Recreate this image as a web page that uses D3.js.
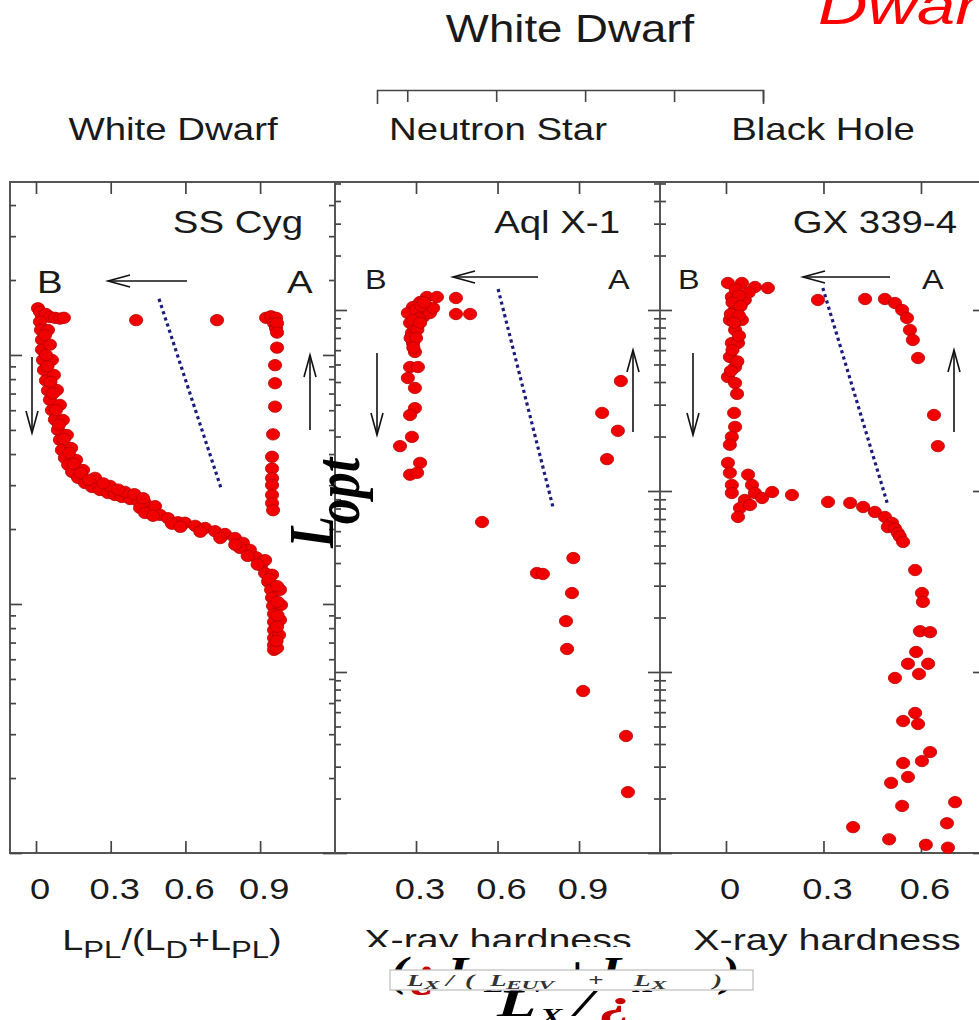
<!DOCTYPE html>
<html><head><meta charset="utf-8">
<script src="https://cdn.jsdelivr.net/npm/d3@7"></script>
<style>body{margin:0;background:#fff}svg{display:block}</style>
</head><body>
<svg id="c" width="979" height="1020"></svg>
<script>
// ---------------- DATA ----------------
const panelNames = ["SS Cyg", "Aql X-1", "GX 339-4"];
const columnTitles = ["White Dwarf", "Neutron Star", "Black Hole"];
const xTicks1 = [0, 0.3, 0.6, 0.9];
const xTickLabels1 = ["0", "0.3", "0.6", "0.9"];
const xTicks2 = [0.3, 0.6, 0.9];
const xTickLabels2 = ["0.3", "0.6", "0.9"];
const xTicks3 = [0, 0.3, 0.6];
const xTickLabels3 = ["0", "0.3", "0.6"];

// [hardness, L_opt]
const ssCygPoints = [
  [0.008,154],[0.016,149],[0.024,143],[0.040,146],[0.056,142],[0.076,141],[0.096,140],[0.112,141],
  [0.402,138],[0.727,138],
  [0.924,141],[0.944,143],[0.964,141],[0.956,134],[0.964,128],
  [0.968,134],[0.968,123],[0.968,107],[0.960,91],[0.960,77],[0.960,62],[0.952,48],[0.948,39],[0.948,35],
  [0.948,32],[0.948,30],[0.948,27.4],[0.948,25.4],[0.952,23.8],
  [0.016,136],[0.020,126],[0.024,115],[0.024,105],[0.028,95.5],[0.032,87],[0.040,79],[0.048,72],[0.056,66],
  [0.064,60],[0.076,55],[0.088,50],[0.096,45.6],[0.104,41.5],[0.116,38.6],[0.129,36.2],[0.145,33.9],
  [0.169,32.1],[0.197,30.6],[0.225,29.5],[0.257,28.7],[0.289,27.9],[0.317,27.4],[0.345,26.9],[0.378,26.4],
  [0.410,25.9],[0.438,25.4],[0.450,24.3],[0.458,23.4],[0.478,24.7],[0.498,22.8],[0.530,22.1],[0.570,21.3],
  [0.598,21.2],[0.639,20.6],[0.679,20.2],[0.719,19.6],[0.759,19.1],[0.799,18.4],[0.831,17.6],[0.859,16.5],
  [0.884,15.4],[0.904,14.3],[0.920,13.3],[0.932,12.3],[0.944,11.4],[0.948,10.6],[0.952,9.82],[0.956,9.12],
  [0.956,8.47],[0.956,7.86],[0.956,7.30],[0.956,6.84],[0.956,6.54],
  [0.048,126],[0.056,110],[0.064,95.5],[0.072,83.1],[0.084,72.3],[0.096,63],[0.108,54.8],[0.124,47.7],
  [0.141,42.3],[0.161,37.9],[0.189,34.5],[0.237,32.1],[0.297,29.8],[0.357,28.2],[0.418,24.3],[0.438,23.2],
  [0.546,21.0],[0.819,16.8],[0.920,15.0],[0.948,13.1],[0.980,11.4],[0.984,9.91],[0.980,8.63],[0.976,7.51],[0.968,6.66],
  [0.036,120],[0.040,100],[0.046,90],[0.058,78],[0.068,70],[0.080,60],[0.092,52.5],[0.112,46],[0.132,40.5],
  [0.152,36.5],[0.180,33.5],[0.212,31.5],[0.270,30.5],[0.330,28.8],[0.395,27.6],[0.430,26.6],[0.470,22.6],
  [0.580,20.4],[0.660,19.5],[0.740,18.4],[0.800,17.3],[0.850,15.6],[0.890,14.4],[0.935,12.6],[0.968,11.8],
  [0.970,10.2],[0.970,9.0],[0.968,8.1],[0.966,7.1]
];
const aqlPoints = [
  [0.340,1180],[0.377,1180],[0.315,1107],[0.289,1039],[0.270,962],[0.278,848],[0.285,746],[0.289,657],
  [0.296,586],[0.326,915],[0.351,962],[0.363,1026],[0.300,1000],[0.320,1050],[0.310,900],[0.295,800],
  [0.330,1100],[0.280,700],[0.305,780],[0.290,880],[0.315,850],[0.300,700],[0.290,620],
  [0.447,1165],[0.447,950],[0.499,950],
  [0.278,484],[0.307,484],[0.270,421],[0.296,371],[0.296,287],[0.278,263],[0.285,199],[0.241,177],
  [0.315,143],[0.278,123],[0.304,126],
  [1.054,405],[0.985,270],[1.043,215],[1.003,150],
  [0.543,67.4],
  [0.879,42.6],[0.745,35.2],[0.767,34.8],[0.874,27.3],[0.852,19.1],[0.856,13.4],[0.915,7.85],[1.073,4.43],[1.080,2.17]
];
const gxPoints = [
  [0.006,1410],[0.049,1410],[0.089,1340],[0.129,1323],[0.018,1180],[0.058,1136],[0.028,1000],[0.012,881],
  [0.049,881],[0.028,776],[0.018,657],[0.037,657],[0.012,550],[0.028,484],[0.006,426],[0.028,395],[0.034,344],
  [0.030,1300],[0.070,1250],[0.040,1200],[0.020,1100],[0.045,1050],[0.015,950],[0.040,930],[0.025,850],
  [0.040,720],[0.020,600],[0.035,520],[0.015,460],
  [0.025,270],[0.028,226],[0.018,199],[0.012,180],
  [0.006,143],[0.012,126],[0.018,108],[0.018,97.5],[0.068,123],[0.080,108],[0.089,97.5],[0.111,91.5],
  [0.142,98.7],[0.058,89.2],[0.043,80.5],[0.037,71.9],[0.074,83.7],
  [0.203,95.0],[0.314,87.0],[0.382,85.9],[0.422,81.6],[0.458,76.6],[0.489,71.9],[0.511,66.6],
  [0.498,63.2],[0.520,62],[0.529,58.6],[0.535,56],[0.545,52.3],[0.582,36.6],[0.603,27.3],[0.606,24.4],
  [0.597,16.8],[0.628,16.6],[0.585,12.9],[0.560,11.1],[0.622,11.1],[0.594,9.75],[0.520,9.27],[0.582,5.94],
  [0.545,5.36],[0.591,5.16],[0.628,3.61],[0.603,3.22],[0.545,3.14],[0.560,2.63],[0.508,2.44],[0.705,1.91],
  [0.542,1.82],[0.680,1.46],[0.391,1.39],[0.502,1.19],[0.615,1.11],[0.683,1.07],
  [0.283,1136],[0.428,1150],[0.489,1150],[0.520,1093],[0.542,1000],[0.557,903],[0.566,776],[0.575,683],
  [0.591,543],[0.640,263],[0.652,177]
];
// dotted reference lines [hardness, L_opt]
const ssCygLine = [[0.494,168],[0.743,29.2]];
const aqlLine = [[0.602,1306],[0.804,81.6]];
const gxLine = [[0.298,1323],[0.498,83.7]];

// ---------------- LAYOUT ----------------
const SANS = "'Liberation Sans', Arial, Helvetica, sans-serif";
const SERIF = "'Liberation Serif', 'Times New Roman', serif";
const TXT = "#1a1a1a";
const RED = "#c80000";
const yRange = [853, 182];
const svg = d3.select("#c");

function addText(parent, o) {
  const g = parent.append("g").attr("transform", `translate(${o.x},${o.y}) ${o.rot ? "rotate(" + o.rot + ")" : ""} scale(${o.kx || 1},${o.ky || 1})`);
  const t = g.append("text")
    .attr("text-anchor", o.anchor || "start")
    .attr("font-family", o.family || SANS)
    .attr("font-size", o.size)
    .attr("font-weight", o.weight || "normal")
    .attr("font-style", o.style || "normal")
    .attr("fill", o.fill || TXT);
  const parts = typeof o.parts === "string" ? [{ t: o.parts }] : o.parts;
  let cur = 0;
  parts.forEach(p => {
    const off = p.dy || 0;
    const ts = t.append("tspan").text(p.t).attr("dy", off - cur);
    cur = off;
    if (p.size) ts.attr("font-size", p.size);
    if (p.fill) ts.attr("fill", p.fill);
    if (p.dx) ts.attr("dx", p.dx);
  });
  return g;
}

function logTicks(top) {
  const maj = [], min = [];
  for (let e = 0; Math.pow(10, e) <= top; e++) {
    const d = Math.pow(10, e);
    maj.push(d);
    for (let k = 2; k < 10; k++) if (k * d < top * 0.995) min.push(k * d);
  }
  return { maj, min };
}

const panels = [
  { x0: 10, x1: 335, xd: [-0.1044, 1.2008], yd: [1, 495], ticks: xTicks1, labels: xTickLabels1, pts: ssCygPoints, line: ssCygLine,
    ann: { B: 27, A: 277, abY: 293, abSize: 32, hFrom: 177, hTo: 98, hY: 281, down: 22, up: 300, dTop: 357, dBot: 433, uTop: 355, uBot: 430 } },
  { x0: 335, x1: 660, xd: [0.0018, 1.198], yd: [1, 5095], ticks: xTicks2, labels: xTickLabels2, pts: aqlPoints, line: aqlLine,
    ann: { B: 30, A: 273, abY: 289, abSize: 27, hFrom: 203, hTo: 118, hY: 277, down: 42, up: 298, dTop: 353, dBot: 435, uTop: 350, uBot: 432 } },
  { x0: 660, x1: 985, xd: [-0.203, 0.797], yd: [1, 5095], ticks: xTicks3, labels: xTickLabels3, pts: gxPoints, line: gxLine,
    ann: { B: 18, A: 262, abY: 289, abSize: 27, hFrom: 230, hTo: 143, hY: 277, down: 33, up: 294, dTop: 353, dBot: 435, uTop: 350, uBot: 432 } }
];

function arrow(g, x1, y1, x2, y2) {
  g.append("line").attr("x1", x1).attr("y1", y1).attr("x2", x2).attr("y2", y2)
    .attr("stroke", "#111").attr("stroke-width", 1.6);
  const a = Math.atan2(y2 - y1, x2 - x1), L = 22, w = 6;
  const bx = x2 - L * Math.cos(a), by = y2 - L * Math.sin(a);
  const nx = -Math.sin(a) * w, ny = Math.cos(a) * w;
  g.append("path").attr("d", `M${bx + nx},${by + ny}L${x2},${y2}L${bx - nx},${by - ny}`)
    .attr("fill", "none").attr("stroke", "#111").attr("stroke-width", 1.6);
}

panels.forEach((p, i) => {
  const x = d3.scaleLinear().domain(p.xd).range([p.x0, p.x1]);
  const y = d3.scaleLog().domain(p.yd).range(yRange);
  const g = svg.append("g");

  g.append("rect").attr("x", p.x0).attr("y", yRange[1]).attr("width", p.x1 - p.x0).attr("height", yRange[0] - yRange[1])
    .attr("fill", "none").attr("stroke", "#555").attr("stroke-width", 2);

  const lt = logTicks(p.yd[1]);
  const styleAxis = s => { s.select(".domain").remove(); s.selectAll("line").attr("stroke", "#444").attr("stroke-width", 1.7); };
  g.append("g").attr("transform", `translate(${p.x0},0)`).call(d3.axisRight(y).tickValues(lt.maj).tickSize(12).tickFormat("")).call(styleAxis);
  g.append("g").attr("transform", `translate(${p.x0},0)`).call(d3.axisRight(y).tickValues(lt.min).tickSize(6).tickFormat("")).call(styleAxis);
  g.append("g").attr("transform", `translate(${p.x1},0)`).call(d3.axisLeft(y).tickValues(lt.maj).tickSize(12).tickFormat("")).call(styleAxis);
  g.append("g").attr("transform", `translate(${p.x1},0)`).call(d3.axisLeft(y).tickValues(lt.min).tickSize(6).tickFormat("")).call(styleAxis);
  g.append("g").attr("transform", `translate(0,${yRange[0]})`).call(d3.axisTop(x).tickValues(p.ticks).tickSize(12).tickFormat("")).call(styleAxis);
  g.append("g").attr("transform", `translate(0,${yRange[1]})`).call(d3.axisBottom(x).tickValues(p.ticks).tickSize(12).tickFormat("")).call(styleAxis);

  p.ticks.forEach((v, j) => addText(svg, { x: x(v) + 4, y: 899, anchor: "middle", kx: 1.25, size: 29, parts: p.labels[j] }));

  g.append("path").datum(p.line)
    .attr("d", d3.line().x(d => x(d[0])).y(d => y(d[1])))
    .attr("fill", "none").attr("stroke", "#1c1c80").attr("stroke-width", 3.2).attr("stroke-dasharray", "3.2,3.3");

  g.append("g").selectAll("ellipse").data(p.pts).join("ellipse")
    .attr("cx", d => x(d[0])).attr("cy", d => y(d[1]))
    .attr("rx", 6.6).attr("ry", 5.7)
    .attr("fill", "#f00000").attr("stroke", "#b80000").attr("stroke-width", 0.8);

  const a = p.ann;
  addText(svg, { x: p.x0 + a.B, y: a.abY, kx: 1.2, size: a.abSize, parts: "B" });
  addText(svg, { x: p.x0 + a.A, y: a.abY, kx: 1.2, size: a.abSize, parts: "A" });
  arrow(svg, p.x0 + a.hFrom, a.hY, p.x0 + a.hTo, a.hY);
  arrow(svg, p.x0 + a.down, a.dTop, p.x0 + a.down, a.dBot);
  arrow(svg, p.x0 + a.up, a.uBot, p.x0 + a.up, a.uTop);

  addText(svg, { x: [303, 620, 957][i], y: 233, anchor: "end", kx: 1.2, size: 32, parts: panelNames[i] });
});

[173, 498, 823].forEach((cx, i) => addText(svg, { x: cx, y: 140, anchor: "middle", kx: 1.24, size: 31, parts: columnTitles[i] }));

addText(svg, { x: 570, y: 42, anchor: "middle", kx: 1.2, size: 38, parts: "White Dwarf" });
addText(svg, { x: 818, y: 24, kx: 1.27, size: 54, style: "italic", fill: "#ff0000", parts: "Dwarf" });
const bx = d3.scaleLinear().domain([-0.34, 4]).range([377, 763]);
svg.append("g").attr("transform", "translate(0,90)")
  .call(d3.axisBottom(bx).tickValues([0, 1, 2, 3, 4]).tickSizeInner(12).tickSizeOuter(14).tickFormat(""))
  .call(s => { s.selectAll("line,path").attr("stroke", "#444").attr("stroke-width", 1.6); });

addText(svg, { x: 172, y: 950, anchor: "middle", kx: 1.3, size: 29,
  parts: [{ t: "L" }, { t: "PL", dy: 8, size: 24 }, { t: "/(L" }, { t: "D", dy: 8, size: 24 }, { t: "+L" }, { t: "PL", dy: 8, size: 24 }, { t: ")" }] });
addText(svg, { x: 498, y: 950, anchor: "middle", kx: 1.36, size: 29, parts: "X-ray hardness" });
addText(svg, { x: 827, y: 950, anchor: "middle", kx: 1.36, size: 29, parts: "X-ray hardness" });

// overlay formula fragments
svg.append("rect").attr("x", 360).attr("y", 947).attr("width", 330).attr("height", 24).attr("fill", "#fff");
const big = [{ t: "(", x: 390 }, { t: "¿", x: 410, fill: RED }, { t: "L", x: 447 }, { t: "EUV", x: 484, sub: 1 },
  { t: "+", x: 562 }, { t: "L", x: 600 }, { t: "X", x: 633, sub: 1 }, { t: ")", x: 722 }];
big.forEach(b => addText(svg, { x: b.x, y: b.sub ? 992 : 986, kx: 1.22, size: b.sub ? 26 : 43, family: SERIF, weight: "bold", style: "italic", fill: b.fill || "#000", parts: b.t }));
svg.append("rect").attr("x", 390).attr("y", 970).attr("width", 363).attr("height", 20)
  .attr("fill", "#fff").attr("stroke", "#bdbdbd").attr("stroke-width", 1.2);
const small = [{ t: "L", x: 407 }, { t: "X", x: 424, sub: 1 }, { t: "/", x: 446 }, { t: "(", x: 465 }, { t: "L", x: 490 },
  { t: "EUV", x: 506, sub: 1 }, { t: "+", x: 588 }, { t: "L", x: 634 }, { t: "X", x: 651, sub: 1 }, { t: ")", x: 713 }];
small.forEach(b => addText(svg, { x: b.x, y: b.sub ? 989 : 986, kx: b.sub ? 1.8 : 1.6, size: b.sub ? 13 : 17, family: SERIF, weight: "bold", style: "italic", fill: "#333", parts: b.t }));
const frac = [{ t: "L", x: 497 }, { t: "X", x: 540, sub: 1 }, { t: "/", x: 575 }, { t: "¿", x: 600, fill: RED }];
frac.forEach(b => addText(svg, { x: b.x, y: b.sub ? 1024 : 1016, kx: b.sub ? 1.4 : 1.7, size: b.sub ? 24 : 38, family: SERIF, weight: "bold", style: "italic", fill: b.fill || "#000", parts: b.t }));

addText(svg, { x: 333, y: 548, rot: -90, ky: 1.2, size: 52, family: SERIF, weight: "bold", style: "italic", fill: "#000",
  parts: [{ t: "L" }, { t: "opt", dy: 22, dx: -8 }] });
</script>
</body></html>
